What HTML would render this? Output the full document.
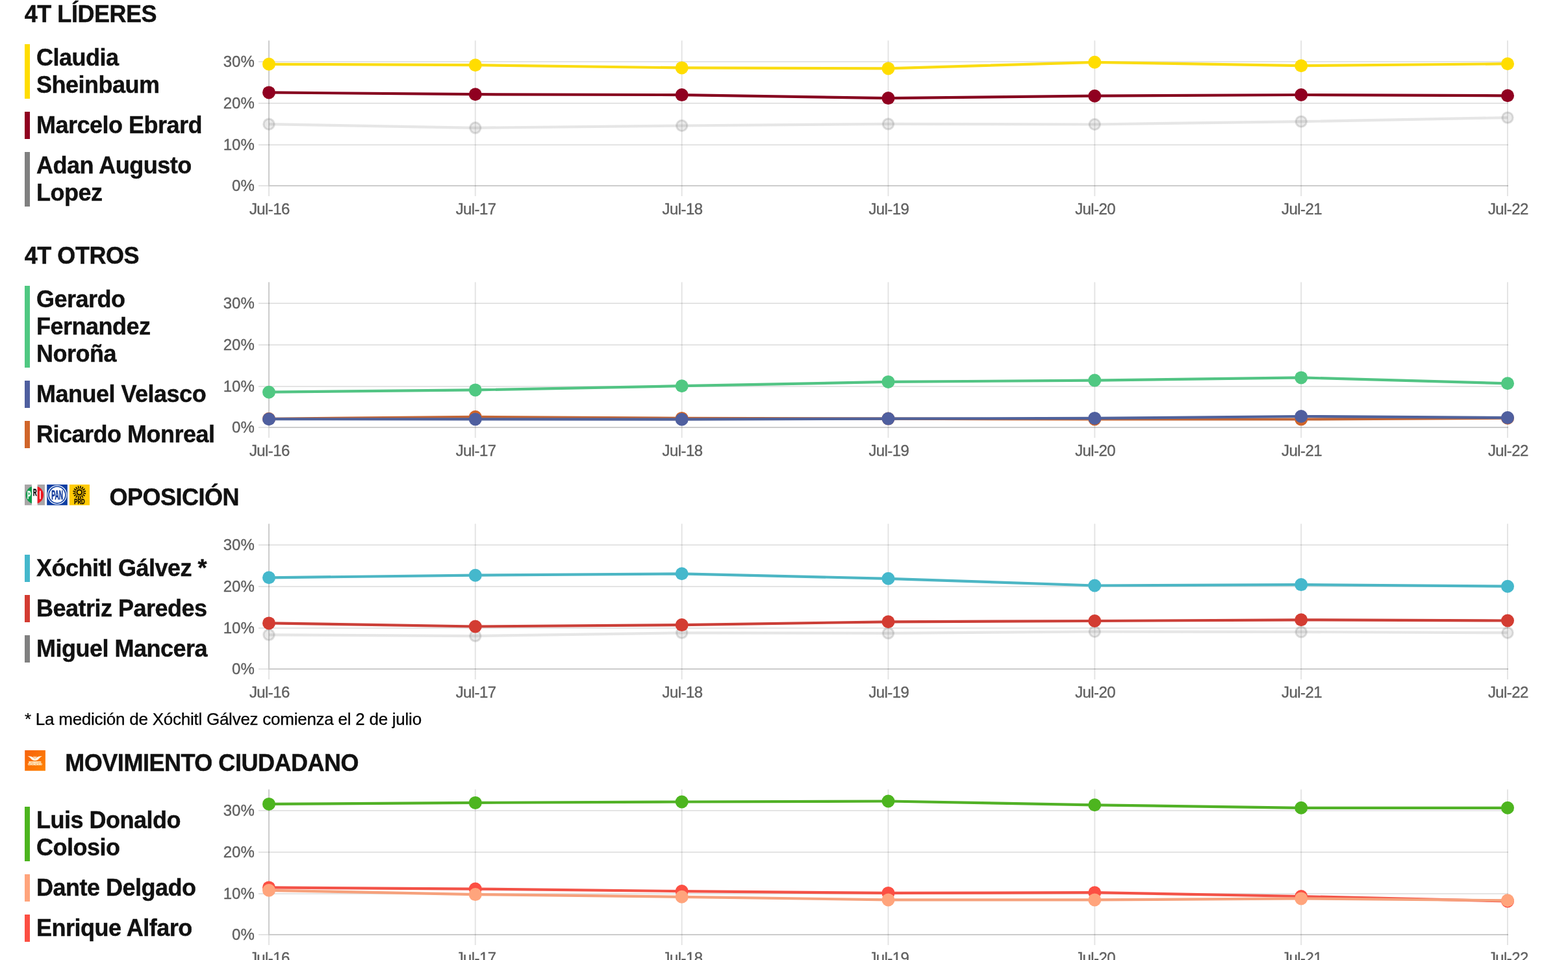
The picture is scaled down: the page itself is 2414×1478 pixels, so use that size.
<!DOCTYPE html>
<html lang="es">
<head>
<meta charset="utf-8">
<meta name="viewport" content="width=2414">
<title>Preferencias presidenciales 2024</title>
<style>
html,body{margin:0;padding:0;background:#fff;}
body{width:2414px;height:1478px;overflow:hidden;position:relative;font-family:"Liberation Sans",Arial,Helvetica,sans-serif;color:#111;}
#wrap{position:absolute;left:0;top:0;width:2414px;height:1478px;overflow:hidden;transform-origin:0 0;}
section{position:absolute;left:0;width:2414px;height:0;}
h2{position:absolute;margin:0;font-weight:700;font-size:36px;line-height:42px;letter-spacing:-0.48px;white-space:nowrap;color:#111;-webkit-text-stroke:0.45px #111;}
ul{list-style:none;margin:0;padding:0;}
li{position:absolute;left:38px;border-left:8px solid #888;padding-left:10px;font-weight:700;font-size:36px;line-height:42px;letter-spacing:-0.5px;white-space:nowrap;color:#111;-webkit-text-stroke:0.45px #111;}
.note{position:absolute;left:38px;margin:0;font-size:26px;line-height:30px;letter-spacing:-0.25px;color:#000;white-space:nowrap;-webkit-text-stroke:0.25px #000;}
svg{position:absolute;overflow:visible;}
svg text{font-family:"Liberation Sans",Arial,Helvetica,sans-serif;}
.chart{left:0;top:0;}
.ax{font-size:24px;fill:#606060;stroke:#606060;stroke-width:0.35px;}
</style>
</head>
<body>
<main id="wrap">
<section id="lideres" style="top:0px">
<h2 style="left:37.8px;top:1.3px">4T LÍDERES</h2>
<ul>
<li style="top:68px;border-left-color:#FFDD00">Claudia<br>Sheinbaum</li>
<li style="top:172px;border-left-color:#900020">Marcelo Ebrard</li>
<li style="top:234px;border-left-color:#808080">Adan Augusto<br>Lopez</li>
</ul>
<svg class="chart" width="2414" height="330" viewBox="0 0 2414 330" role="img" aria-label="4T LÍDERES">
<g class="grid">
<rect x="398" y="222" width="1924" height="2" fill="rgba(0,0,0,0.105)"/>
<rect x="398" y="158" width="1924" height="2" fill="rgba(0,0,0,0.105)"/>
<rect x="398" y="94" width="1924" height="2" fill="rgba(0,0,0,0.105)"/>
<rect x="398" y="285" width="15" height="2" fill="rgba(0,0,0,0.105)"/>
<rect x="413" y="285" width="1909" height="2" fill="rgba(0,0,0,0.2)"/>
<rect x="413" y="62.4" width="2" height="222.6" fill="rgba(0,0,0,0.2)"/>
<rect x="413" y="287" width="2" height="15" fill="rgba(0,0,0,0.105)"/>
<rect x="730.8" y="62.4" width="2" height="239.6" fill="rgba(0,0,0,0.105)"/>
<rect x="1048.7" y="62.4" width="2" height="239.6" fill="rgba(0,0,0,0.105)"/>
<rect x="1366.5" y="62.4" width="2" height="239.6" fill="rgba(0,0,0,0.105)"/>
<rect x="1684.3" y="62.4" width="2" height="239.6" fill="rgba(0,0,0,0.105)"/>
<rect x="2002.2" y="62.4" width="2" height="239.6" fill="rgba(0,0,0,0.105)"/>
<rect x="2320" y="62.4" width="2" height="239.6" fill="rgba(0,0,0,0.105)"/>
</g>
<g class="ax" text-anchor="end">
<text x="391.8" y="294.2">0%</text>
<text x="391.8" y="231.2">10%</text>
<text x="391.8" y="167.2">20%</text>
<text x="391.8" y="103.2">30%</text>
</g>
<g class="ax" text-anchor="middle" letter-spacing="-0.6">
<text x="414.8" y="330.2">Jul-16</text>
<text x="732.6" y="330.2">Jul-17</text>
<text x="1050.5" y="330.2">Jul-18</text>
<text x="1368.3" y="330.2">Jul-19</text>
<text x="1686.1" y="330.2">Jul-20</text>
<text x="2004" y="330.2">Jul-21</text>
<text x="2321.8" y="330.2">Jul-22</text>
</g>
<g fill="rgba(128,128,128,0.17)" stroke="rgba(128,128,128,0.25)" stroke-width="3">
<polyline points="414,191.2 731.8,196.8 1049.7,193.5 1367.5,190.9 1685.3,191.5 2003.2,187.1 2321,181.1" fill="none" stroke="rgba(128,128,128,0.2)" stroke-width="4.2"/>
<circle cx="414" cy="191.2" r="8.2"/>
<circle cx="731.8" cy="196.8" r="8.2"/>
<circle cx="1049.7" cy="193.5" r="8.2"/>
<circle cx="1367.5" cy="190.9" r="8.2"/>
<circle cx="1685.3" cy="191.5" r="8.2"/>
<circle cx="2003.2" cy="187.1" r="8.2"/>
<circle cx="2321" cy="181.1" r="8.2"/>
</g>
<g fill="#900020">
<polyline points="414,142.4 731.8,145.2 1049.7,146.1 1367.5,151.1 1685.3,147.7 2003.2,146 2321,147.3" fill="none" stroke="#86001E" stroke-width="4.2"/>
<circle cx="414" cy="142.4" r="10"/>
<circle cx="731.8" cy="145.2" r="10"/>
<circle cx="1049.7" cy="146.1" r="10"/>
<circle cx="1367.5" cy="151.1" r="10"/>
<circle cx="1685.3" cy="147.7" r="10"/>
<circle cx="2003.2" cy="146" r="10"/>
<circle cx="2321" cy="147.3" r="10"/>
</g>
<g fill="#FFDD00">
<polyline points="414,98.8 731.8,100.2 1049.7,104.4 1367.5,105.4 1685.3,95.8 2003.2,101.2 2321,98.2" fill="none" stroke="#FADC12" stroke-width="4.2"/>
<circle cx="414" cy="98.8" r="10"/>
<circle cx="731.8" cy="100.2" r="10"/>
<circle cx="1049.7" cy="104.4" r="10"/>
<circle cx="1367.5" cy="105.4" r="10"/>
<circle cx="1685.3" cy="95.8" r="10"/>
<circle cx="2003.2" cy="101.2" r="10"/>
<circle cx="2321" cy="98.2" r="10"/>
</g>
</svg>
</section>
<section id="otros" style="top:372px">
<h2 style="left:37.8px;top:1.3px">4T OTROS</h2>
<ul>
<li style="top:68px;border-left-color:#50C882">Gerardo<br>Fernandez<br>Noroña</li>
<li style="top:214px;border-left-color:#4F5F9F">Manuel Velasco</li>
<li style="top:276px;border-left-color:#D0652A">Ricardo Monreal</li>
</ul>
<svg class="chart" width="2414" height="330" viewBox="0 0 2414 330" role="img" aria-label="4T OTROS">
<g class="grid">
<rect x="398" y="222" width="1924" height="2" fill="rgba(0,0,0,0.105)"/>
<rect x="398" y="158" width="1924" height="2" fill="rgba(0,0,0,0.105)"/>
<rect x="398" y="94" width="1924" height="2" fill="rgba(0,0,0,0.105)"/>
<rect x="398" y="285" width="15" height="2" fill="rgba(0,0,0,0.105)"/>
<rect x="413" y="285" width="1909" height="2" fill="rgba(0,0,0,0.2)"/>
<rect x="413" y="62.4" width="2" height="222.6" fill="rgba(0,0,0,0.2)"/>
<rect x="413" y="287" width="2" height="15" fill="rgba(0,0,0,0.105)"/>
<rect x="730.8" y="62.4" width="2" height="239.6" fill="rgba(0,0,0,0.105)"/>
<rect x="1048.7" y="62.4" width="2" height="239.6" fill="rgba(0,0,0,0.105)"/>
<rect x="1366.5" y="62.4" width="2" height="239.6" fill="rgba(0,0,0,0.105)"/>
<rect x="1684.3" y="62.4" width="2" height="239.6" fill="rgba(0,0,0,0.105)"/>
<rect x="2002.2" y="62.4" width="2" height="239.6" fill="rgba(0,0,0,0.105)"/>
<rect x="2320" y="62.4" width="2" height="239.6" fill="rgba(0,0,0,0.105)"/>
</g>
<g class="ax" text-anchor="end">
<text x="391.8" y="294.2">0%</text>
<text x="391.8" y="231.2">10%</text>
<text x="391.8" y="167.2">20%</text>
<text x="391.8" y="103.2">30%</text>
</g>
<g class="ax" text-anchor="middle" letter-spacing="-0.6">
<text x="414.8" y="330.2">Jul-16</text>
<text x="732.6" y="330.2">Jul-17</text>
<text x="1050.5" y="330.2">Jul-18</text>
<text x="1368.3" y="330.2">Jul-19</text>
<text x="1686.1" y="330.2">Jul-20</text>
<text x="2004" y="330.2">Jul-21</text>
<text x="2321.8" y="330.2">Jul-22</text>
</g>
<g fill="#D0652A">
<polyline points="414,272.8 731.8,269.8 1049.7,271.9 1367.5,272.6 1685.3,273.5 2003.2,273.5 2321,271.7" fill="none" stroke="#C26637" stroke-width="4.2"/>
<circle cx="414" cy="272.8" r="10"/>
<circle cx="731.8" cy="269.8" r="10"/>
<circle cx="1049.7" cy="271.9" r="10"/>
<circle cx="1367.5" cy="272.6" r="10"/>
<circle cx="1685.3" cy="273.5" r="10"/>
<circle cx="2003.2" cy="273.5" r="10"/>
<circle cx="2321" cy="271.7" r="10"/>
</g>
<g fill="#4F5F9F">
<polyline points="414,273.2 731.8,273.4 1049.7,273.7 1367.5,272.6 1685.3,271.9 2003.2,269 2321,271.1" fill="none" stroke="#50629B" stroke-width="4.2"/>
<circle cx="414" cy="273.2" r="10"/>
<circle cx="731.8" cy="273.4" r="10"/>
<circle cx="1049.7" cy="273.7" r="10"/>
<circle cx="1367.5" cy="272.6" r="10"/>
<circle cx="1685.3" cy="271.9" r="10"/>
<circle cx="2003.2" cy="269" r="10"/>
<circle cx="2321" cy="271.1" r="10"/>
</g>
<g fill="#50C882">
<polyline points="414,231.7 731.8,228.4 1049.7,222.2 1367.5,215.9 1685.3,213.6 2003.2,209.4 2321,218.3" fill="none" stroke="#52C484" stroke-width="4.2"/>
<circle cx="414" cy="231.7" r="10"/>
<circle cx="731.8" cy="228.4" r="10"/>
<circle cx="1049.7" cy="222.2" r="10"/>
<circle cx="1367.5" cy="215.9" r="10"/>
<circle cx="1685.3" cy="213.6" r="10"/>
<circle cx="2003.2" cy="209.4" r="10"/>
<circle cx="2321" cy="218.3" r="10"/>
</g>
</svg>
</section>
<section id="oposicion" style="top:744px">
<svg class="logo" style="left:38px;top:2px" width="100" height="32" viewBox="0 0 100 32" role="img" aria-label="PRI PAN PRD">
<defs><clipPath id="cl"><rect x="0" y="0" width="10.9" height="32"/></clipPath><clipPath id="cr"><rect x="19.7" y="0" width="11.3" height="32"/></clipPath></defs>
<g font-weight="700" text-anchor="middle">
<rect x="0" y="0" width="31" height="31.8" fill="#a9a6a7"/>
<rect x="10.9" y="0" width="8.8" height="31.8" fill="#fff"/>
<ellipse cx="15.4" cy="16" rx="13.6" ry="13.8" fill="#0b9a48" clip-path="url(#cl)"/>
<ellipse cx="15.4" cy="16" rx="13.6" ry="13.8" fill="#ee1620" clip-path="url(#cr)"/>
<text x="6.7" y="21.7" font-size="16.8" fill="#fff" stroke="#fff" stroke-width="0.7" textLength="5.4" lengthAdjust="spacingAndGlyphs">P</text>
<text x="15.7" y="16.7" font-size="14" fill="#111" stroke="#111" stroke-width="0.8" textLength="5.6" lengthAdjust="spacingAndGlyphs">R</text>
<text x="23.8" y="21.7" font-size="16.8" fill="#fff" stroke="#fff" stroke-width="0.5" textLength="2.6" lengthAdjust="spacingAndGlyphs">I</text>
</g>
<g transform="translate(34.2,0)" font-weight="700" text-anchor="middle">
<rect x="0" y="0" width="31.6" height="31.8" fill="#0d3ea3"/>
<circle cx="15.8" cy="15.9" r="14.9" fill="#fff"/>
<circle cx="15.8" cy="15.9" r="12.9" fill="none" stroke="#0d3ea3" stroke-width="1.7"/>
<text x="15.9" y="22.7" font-size="19.4" fill="#0b379a" stroke="#0b379a" stroke-width="0.55" textLength="17.8" lengthAdjust="spacingAndGlyphs">PAN</text>
</g>
<g transform="translate(68.9,0)" font-weight="700" text-anchor="middle">
<rect x="0" y="0" width="31.1" height="31.8" fill="#ffcb05"/>
<path d="M21.09 13.13L25.21 13.95M20.22 15.22L23.71 17.56M18.62 16.82L20.96 20.31M16.53 17.69L17.35 21.81M14.27 17.69L13.45 21.81M12.18 16.82L9.84 20.31M10.58 15.22L7.09 17.56M9.71 13.13L5.59 13.95M9.71 10.87L5.59 10.05M10.58 8.78L7.09 6.44M12.18 7.18L9.84 3.69M14.27 6.31L13.45 2.19M16.53 6.31L17.35 2.19M18.62 7.18L20.96 3.69M20.22 8.78L23.71 6.44M21.09 10.87L25.21 10.05" stroke="#1c1300" stroke-width="1.7" fill="none"/>
<circle cx="15.4" cy="12.0" r="3.8" fill="#f8c600" stroke="#1c1300" stroke-width="2"/>
<text x="15.5" y="29.8" font-size="10" fill="#1c1300" stroke="#1c1300" stroke-width="0.5" textLength="16.2" lengthAdjust="spacingAndGlyphs">PRD</text>
</g>
</svg>
<h2 style="left:168.4px;top:1.3px">OPOSICIÓN</h2>
<ul>
<li style="top:110px;border-left-color:#45B8CC">Xóchitl Gálvez *</li>
<li style="top:172px;border-left-color:#D33C32">Beatriz Paredes</li>
<li style="top:234px;border-left-color:#808080">Miguel Mancera</li>
</ul>
<svg class="chart" width="2414" height="330" viewBox="0 0 2414 330" role="img" aria-label="OPOSICIÓN">
<g class="grid">
<rect x="398" y="222" width="1924" height="2" fill="rgba(0,0,0,0.105)"/>
<rect x="398" y="158" width="1924" height="2" fill="rgba(0,0,0,0.105)"/>
<rect x="398" y="94" width="1924" height="2" fill="rgba(0,0,0,0.105)"/>
<rect x="398" y="285" width="15" height="2" fill="rgba(0,0,0,0.105)"/>
<rect x="413" y="285" width="1909" height="2" fill="rgba(0,0,0,0.2)"/>
<rect x="413" y="62.4" width="2" height="222.6" fill="rgba(0,0,0,0.2)"/>
<rect x="413" y="287" width="2" height="15" fill="rgba(0,0,0,0.105)"/>
<rect x="730.8" y="62.4" width="2" height="239.6" fill="rgba(0,0,0,0.105)"/>
<rect x="1048.7" y="62.4" width="2" height="239.6" fill="rgba(0,0,0,0.105)"/>
<rect x="1366.5" y="62.4" width="2" height="239.6" fill="rgba(0,0,0,0.105)"/>
<rect x="1684.3" y="62.4" width="2" height="239.6" fill="rgba(0,0,0,0.105)"/>
<rect x="2002.2" y="62.4" width="2" height="239.6" fill="rgba(0,0,0,0.105)"/>
<rect x="2320" y="62.4" width="2" height="239.6" fill="rgba(0,0,0,0.105)"/>
</g>
<g class="ax" text-anchor="end">
<text x="391.8" y="294.2">0%</text>
<text x="391.8" y="231.2">10%</text>
<text x="391.8" y="167.2">20%</text>
<text x="391.8" y="103.2">30%</text>
</g>
<g class="ax" text-anchor="middle" letter-spacing="-0.6">
<text x="414.8" y="330.2">Jul-16</text>
<text x="732.6" y="330.2">Jul-17</text>
<text x="1050.5" y="330.2">Jul-18</text>
<text x="1368.3" y="330.2">Jul-19</text>
<text x="1686.1" y="330.2">Jul-20</text>
<text x="2004" y="330.2">Jul-21</text>
<text x="2321.8" y="330.2">Jul-22</text>
</g>
<g fill="rgba(128,128,128,0.17)" stroke="rgba(128,128,128,0.25)" stroke-width="3">
<polyline points="414,233.3 731.8,235.1 1049.7,230.3 1367.5,230.9 1685.3,228.5 2003.2,228.9 2321,230.2" fill="none" stroke="rgba(128,128,128,0.2)" stroke-width="4.2"/>
<circle cx="414" cy="233.3" r="8.2"/>
<circle cx="731.8" cy="235.1" r="8.2"/>
<circle cx="1049.7" cy="230.3" r="8.2"/>
<circle cx="1367.5" cy="230.9" r="8.2"/>
<circle cx="1685.3" cy="228.5" r="8.2"/>
<circle cx="2003.2" cy="228.9" r="8.2"/>
<circle cx="2321" cy="230.2" r="8.2"/>
</g>
<g fill="#D33C32">
<polyline points="414,215.4 731.8,220.5 1049.7,218.1 1367.5,213.3 1685.3,212 2003.2,210.3 2321,211.5" fill="none" stroke="#CB3F38" stroke-width="4.2"/>
<circle cx="414" cy="215.4" r="10"/>
<circle cx="731.8" cy="220.5" r="10"/>
<circle cx="1049.7" cy="218.1" r="10"/>
<circle cx="1367.5" cy="213.3" r="10"/>
<circle cx="1685.3" cy="212" r="10"/>
<circle cx="2003.2" cy="210.3" r="10"/>
<circle cx="2321" cy="211.5" r="10"/>
</g>
<g fill="#45B8CC">
<polyline points="414,145.3 731.8,141.7 1049.7,139.3 1367.5,146.8 1685.3,157.5 2003.2,156.1 2321,158.7" fill="none" stroke="#4CB6C4" stroke-width="4.2"/>
<circle cx="414" cy="145.3" r="10"/>
<circle cx="731.8" cy="141.7" r="10"/>
<circle cx="1049.7" cy="139.3" r="10"/>
<circle cx="1367.5" cy="146.8" r="10"/>
<circle cx="1685.3" cy="157.5" r="10"/>
<circle cx="2003.2" cy="156.1" r="10"/>
<circle cx="2321" cy="158.7" r="10"/>
</g>
</svg>
<p class="note" style="top:348px">* La medición de Xóchitl Gálvez comienza el 2 de julio</p>
</section>
<section id="mc" style="top:1153px">
<svg class="logo" style="left:38px;top:2px" width="32" height="32" viewBox="0 0 32 32" role="img" aria-label="Movimiento Ciudadano">
<defs><linearGradient id="mcg" x1="0" y1="0" x2="1" y2="1"><stop offset="0" stop-color="#f7620c"/><stop offset="1" stop-color="#ff8403"/></linearGradient></defs>
<rect x="0.2" y="0.1" width="31.7" height="31.6" fill="url(#mcg)"/>
<path d="M4.6 8.9 C8 9.1 11 9.5 13.2 11 L14.4 8.8 L15.8 11.4 L17.2 8.8 L18.4 11 C20.6 9.5 23.6 9.1 27 8.9 C24.6 10.3 23.2 11.6 22 13 C20.6 14.8 18.6 16.1 15.8 16.1 C13 16.1 11 14.8 9.6 13 C8.4 11.6 7 10.3 4.6 8.9 Z" fill="#fff8e8"/>
<path d="M13.6 10 L14.4 12.6 M18 10 L17.2 12.6 M15.8 12.6 L15.8 14" stroke="#f87310" stroke-width="0.7" fill="none"/>
<g font-size="2.8" font-weight="700" fill="#ffedc8" stroke="#ffedc8" stroke-width="0.25" text-anchor="middle">
<text x="15.9" y="19.85" textLength="18.6" lengthAdjust="spacingAndGlyphs">MOVIMIENTO</text>
<text x="15.9" y="22.8" textLength="21.8" lengthAdjust="spacingAndGlyphs">CIUDADANO</text>
</g>
</svg>
<h2 style="left:100.3px;top:1.3px">MOVIMIENTO CIUDADANO</h2>
<ul>
<li style="top:89px;border-left-color:#4DB51F">Luis Donaldo<br>Colosio</li>
<li style="top:193px;border-left-color:#FFA47C">Dante Delgado</li>
<li style="top:255px;border-left-color:#FC4F43">Enrique Alfaro</li>
</ul>
<svg class="chart" width="2414" height="325" viewBox="0 0 2414 325" role="img" aria-label="MOVIMIENTO CIUDADANO">
<g class="grid">
<rect x="398" y="222" width="1924" height="2" fill="rgba(0,0,0,0.105)"/>
<rect x="398" y="158" width="1924" height="2" fill="rgba(0,0,0,0.105)"/>
<rect x="398" y="94" width="1924" height="2" fill="rgba(0,0,0,0.105)"/>
<rect x="398" y="285" width="15" height="2" fill="rgba(0,0,0,0.105)"/>
<rect x="413" y="285" width="1909" height="2" fill="rgba(0,0,0,0.2)"/>
<rect x="413" y="62.4" width="2" height="222.6" fill="rgba(0,0,0,0.2)"/>
<rect x="413" y="287" width="2" height="15" fill="rgba(0,0,0,0.105)"/>
<rect x="730.8" y="62.4" width="2" height="239.6" fill="rgba(0,0,0,0.105)"/>
<rect x="1048.7" y="62.4" width="2" height="239.6" fill="rgba(0,0,0,0.105)"/>
<rect x="1366.5" y="62.4" width="2" height="239.6" fill="rgba(0,0,0,0.105)"/>
<rect x="1684.3" y="62.4" width="2" height="239.6" fill="rgba(0,0,0,0.105)"/>
<rect x="2002.2" y="62.4" width="2" height="239.6" fill="rgba(0,0,0,0.105)"/>
<rect x="2320" y="62.4" width="2" height="239.6" fill="rgba(0,0,0,0.105)"/>
</g>
<g class="ax" text-anchor="end">
<text x="391.8" y="294.2">0%</text>
<text x="391.8" y="231.2">10%</text>
<text x="391.8" y="167.2">20%</text>
<text x="391.8" y="103.2">30%</text>
</g>
<g class="ax" text-anchor="middle" letter-spacing="-0.6">
<text x="414.8" y="330.2">Jul-16</text>
<text x="732.6" y="330.2">Jul-17</text>
<text x="1050.5" y="330.2">Jul-18</text>
<text x="1368.3" y="330.2">Jul-19</text>
<text x="1686.1" y="330.2">Jul-20</text>
<text x="2004" y="330.2">Jul-21</text>
<text x="2321.8" y="330.2">Jul-22</text>
</g>
<g fill="#FC4F43">
<polyline points="414,213.4 731.8,215.6 1049.7,219.1 1367.5,221.9 1685.3,221.2 2003.2,227 2321,234.5" fill="none" stroke="#F35247" stroke-width="4.2"/>
<circle cx="414" cy="213.4" r="10"/>
<circle cx="731.8" cy="215.6" r="10"/>
<circle cx="1049.7" cy="219.1" r="10"/>
<circle cx="1367.5" cy="221.9" r="10"/>
<circle cx="1685.3" cy="221.2" r="10"/>
<circle cx="2003.2" cy="227" r="10"/>
<circle cx="2321" cy="234.5" r="10"/>
</g>
<g fill="#FFA47C">
<polyline points="414,217.8 731.8,224.1 1049.7,227.8 1367.5,232.4 1685.3,232.4 2003.2,230.4 2321,233.3" fill="none" stroke="#F6A17C" stroke-width="4.2"/>
<circle cx="414" cy="217.8" r="10"/>
<circle cx="731.8" cy="224.1" r="10"/>
<circle cx="1049.7" cy="227.8" r="10"/>
<circle cx="1367.5" cy="232.4" r="10"/>
<circle cx="1685.3" cy="232.4" r="10"/>
<circle cx="2003.2" cy="230.4" r="10"/>
<circle cx="2321" cy="233.3" r="10"/>
</g>
<g fill="#4DB51F">
<polyline points="414,84.9 731.8,82.9 1049.7,81.5 1367.5,80.5 1685.3,86.3 2003.2,90.8 2321,90.8" fill="none" stroke="#51B126" stroke-width="4.2"/>
<circle cx="414" cy="84.9" r="10"/>
<circle cx="731.8" cy="82.9" r="10"/>
<circle cx="1049.7" cy="81.5" r="10"/>
<circle cx="1367.5" cy="80.5" r="10"/>
<circle cx="1685.3" cy="86.3" r="10"/>
<circle cx="2003.2" cy="90.8" r="10"/>
<circle cx="2321" cy="90.8" r="10"/>
</g>
</svg>
</section>
</main>
<script>(function(){var w=window.innerWidth||2414;if(Math.abs(w-2414)>2){var e=document.getElementById("wrap");e.style.transform="scale("+(w/2414)+")";document.body.style.width=w+"px";document.body.style.height=Math.round(1478*w/2414)+"px";}})();</script>
</body>
</html>
